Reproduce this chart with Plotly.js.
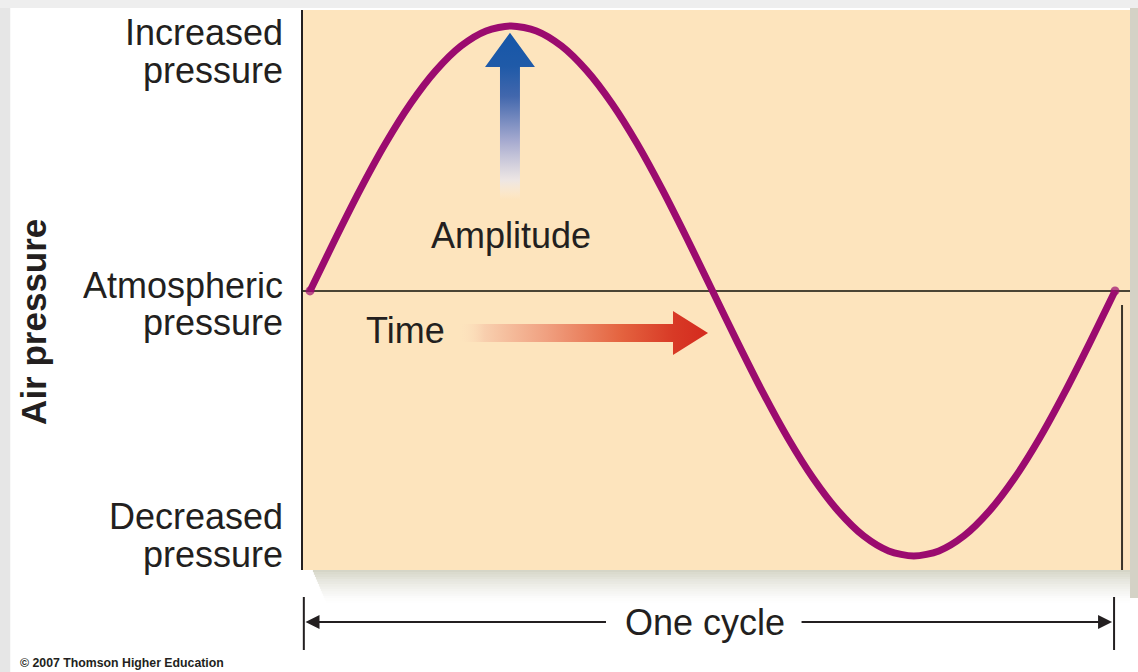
<!DOCTYPE html>
<html>
<head>
<meta charset="utf-8">
<script src="https://cdn.plot.ly/plotly-3.0.1.min.js"></script>
<style>html,body{margin:0;padding:0;background:#fff;}#chart{width:1138px;height:672px;}</style>
</head>
<body>
<div id="chart"></div>
<script>
// ---- data (one cycle of air pressure) ----
const cyclePhase = [0, 0.03125, 0.0625, 0.09375, 0.125, 0.15625, 0.1875, 0.21875, 0.25,
                    0.28125, 0.3125, 0.34375, 0.375, 0.40625, 0.4375, 0.46875, 0.5,
                    0.53125, 0.5625, 0.59375, 0.625, 0.65625, 0.6875, 0.71875, 0.75,
                    0.78125, 0.8125, 0.84375, 0.875, 0.90625, 0.9375, 0.96875, 1];
const airPressure = [0, 0.195, 0.383, 0.556, 0.707, 0.831, 0.924, 0.981, 1,
                     0.981, 0.924, 0.831, 0.707, 0.556, 0.383, 0.195, 0,
                     -0.195, -0.383, -0.556, -0.707, -0.831, -0.924, -0.981, -1,
                     -0.981, -0.924, -0.831, -0.707, -0.556, -0.383, -0.195, 0];
const levelLabels = [["Increased", "pressure"], ["Atmospheric", "pressure"], ["Decreased", "pressure"]];
const yAxisTitle = "Air pressure";
const cycleLabel = "One cycle";
const amplitudeLabel = "Amplitude";
const timeLabel = "Time";
const creditLabel = "© 2007 Thomson Higher Education";

const FONT = "Liberation Sans, Arial, Helvetica, sans-serif";
const TXT = "#231f20";

// peak and zero crossing derived from the data
const peakIdx = airPressure.indexOf(Math.max(...airPressure));
const peakX = cyclePhase[peakIdx], peakY = airPressure[peakIdx];
const crossX = cyclePhase[(airPressure.length - 1) / 2];

// ---- decorative arrows (gradient filled polygons) ----
function upArrow(cx, tipY) {
  const hw = 0.0124, HW = 0.031, headH = 0.129, shaftLen = 0.502;
  const base = tipY - headH, bot = base - shaftLen;
  return {
    x: [cx - hw, cx - hw, cx - HW, cx, cx + HW, cx + hw, cx + hw, cx - hw],
    y: [bot, base, base, tipY, base, base, bot, bot],
    bot: bot, top: tipY
  };
}
function rightArrow(tipX, cy) {
  const hh = 0.034, HH = 0.083, headW = 0.0435, shaftLen = 0.265;
  const base = tipX - headW, left = base - shaftLen;
  return {
    x: [left, base, base, tipX, base, base, left, left],
    y: [cy - hh, cy - hh, cy - HH, cy, cy + HH, cy + hh, cy + hh, cy - hh],
    left: left, right: tipX
  };
}
const ua = upArrow(peakX - 0.0016, peakY - 0.026);
const ra = rightArrow(crossX - 0.0056, -0.1585);

const traces = [
  {
    type: "scatter", mode: "none", x: ua.x, y: ua.y, fill: "toself",
    fillgradient: {type: "vertical", start: ua.bot, stop: ua.top,
      colorscale: [[0, "rgba(250,240,230,0.0)"], [0.12, "rgba(235,230,232,0.9)"], [0.35, "#a7abd0"],
                   [0.62, "#4267ad"], [0.8, "#1f5aa8"], [1, "#1656a8"]]},
    hoverinfo: "skip", showlegend: false
  },
  {
    type: "scatter", mode: "none", x: ra.x, y: ra.y, fill: "toself",
    fillgradient: {type: "horizontal", start: ra.left, stop: ra.right,
      colorscale: [[0, "rgba(252,225,190,0.0)"], [0.1, "#f8cfae"], [0.35, "#f0a080"],
                   [0.65, "#e4633f"], [0.86, "#d83a26"], [1, "#d42a1e"]]},
    hoverinfo: "skip", showlegend: false
  },
  {
    type: "scatter", mode: "lines+markers", x: cyclePhase, y: airPressure,
    line: {color: "#9b0b6f", width: 7, shape: "spline", smoothing: 0.8},
    marker: {color: "#9b0b6f", line: {width: 0},
             size: airPressure.map((v, i) => (i === 0 || i === airPressure.length - 1) ? 9 : 0)},
    hoverinfo: "skip", showlegend: false
  }
];

// ---- annotations ----
const ann = [];
const labelY = [[0.963, 0.819], [0.008, -0.132], [-0.864, -1.009]];
levelLabels.forEach((pair, i) => {
  pair.forEach((t, j) => {
    ann.push({text: t, xref: "paper", x: 0, xshift: -19, xanchor: "right",
      yref: "y", y: labelY[i][j], yanchor: "middle", height: 34, valign: "bottom", borderpad: 0,
      showarrow: false, font: {family: FONT, size: 36, color: TXT}});
  });
});
ann.push({text: "<b>" + yAxisTitle + "</b>", xref: "paper", x: -0.3253, xanchor: "center",
  yref: "paper", y: 0.443, yanchor: "middle",
  textangle: -90, showarrow: false, font: {family: FONT, size: 35, color: TXT}});
ann.push({text: amplitudeLabel, xref: "x", x: peakX, xanchor: "center", yref: "y", y: 0.2075,
  yanchor: "middle", showarrow: false, font: {family: FONT, size: 36, color: TXT}});
ann.push({text: timeLabel, xref: "x", x: 0.118, xanchor: "center", yref: "y", y: -0.151,
  yanchor: "middle", showarrow: false, font: {family: FONT, size: 36, color: TXT}});
ann.push({text: cycleLabel, xref: "x", x: 0.4907, xanchor: "center", yref: "paper", y: -0.0929,
  yanchor: "middle", showarrow: false, font: {family: FONT, size: 36, color: TXT}});
ann.push({text: "<b>" + creditLabel + "</b>", xref: "paper", x: -0.3446, xanchor: "left",
  yref: "paper", y: -0.166, yanchor: "middle", showarrow: false,
  font: {family: FONT, size: 12.3, color: TXT}});
// cycle arrows
ann.push({text: "", xref: "paper", x: 0.003, yref: "paper", y: -0.0929, ax: 302, ay: 0,
  showarrow: true, arrowhead: 2, arrowsize: 1.4, arrowwidth: 2, arrowcolor: "#231f20", standoff: 0});
ann.push({text: "", xref: "x", x: 0.9963, yref: "paper", y: -0.0929, ax: -312, ay: 0,
  showarrow: true, arrowhead: 2, arrowsize: 1.4, arrowwidth: 2, arrowcolor: "#231f20", standoff: 0});

// ---- shapes (frame decoration) ----
const shapes = [
  {type: "rect", xref: "paper", yref: "paper", x0: -0.37, x1: -0.354, y0: -0.2, y1: 1.02, fillcolor: "#e6e6e6", line: {width: 0}, layer: "below"},
  {type: "rect", xref: "paper", yref: "paper", x0: -0.37, x1: 1.02, y0: 1.0036, y1: 1.02, fillcolor: "#eeeeee", line: {width: 0}, layer: "below"},
  {type: "rect", xref: "paper", yref: "paper", x0: 1.0, x1: 1.012, y0: -0.05, y1: 1.0036, fillcolor: "#d4d2c6", line: {width: 0}, layer: "below"},
  {type: "line", xref: "paper", x0: 0.001, x1: 0.001, yref: "paper", y0: -0.0482, y1: -0.1429, line: {color: "#231f20", width: 2}},
  {type: "line", xref: "x", x0: 0.9988, x1: 0.9988, yref: "paper", y0: -0.0482, y1: -0.1429, line: {color: "#231f20", width: 2}},
  {type: "line", xref: "x", x0: 1.0087, x1: 1.0087, yref: "paper", y0: 0, y1: 0.473, line: {color: "#3a3428", width: 2}}
];
// soft shadow below the plot panel
const nSh = 14;
for (let k = 0; k < nSh; k++) {
  const a = 0.40 * Math.pow(1 - k / nSh, 1.5);
  shapes.push({type: "rect", xref: "paper", yref: "paper", x0: 0.012 + k * 0.0012, x1: 1.0,
    y0: -(k + 1) * 0.0042, y1: -k * 0.0042,
    fillcolor: "rgba(150,150,115," + a.toFixed(3) + ")", line: {width: 0}, layer: "below"});
}

const layout = {
  width: 1138, height: 672,
  margin: {l: 303, r: 8, t: 10, b: 102, pad: 0},
  paper_bgcolor: "#ffffff",
  plot_bgcolor: "#fde4bd",
  showlegend: false,
  font: {family: FONT, color: TXT},
  xaxis: {range: [-0.0087, 1.0186], showgrid: false, zeroline: false, showline: false,
          showticklabels: false, ticks: "", fixedrange: true},
  yaxis: {range: [-1.053, 1.060], showgrid: false, zeroline: true, zerolinecolor: "#4b4434",
          zerolinewidth: 2, showline: true, linecolor: "#231f20", linewidth: 2,
          showticklabels: false, ticks: "", fixedrange: true},
  annotations: ann,
  shapes: shapes
};

Plotly.newPlot("chart", traces, layout, {displayModeBar: false, staticPlot: true});
</script>
</body>
</html>
